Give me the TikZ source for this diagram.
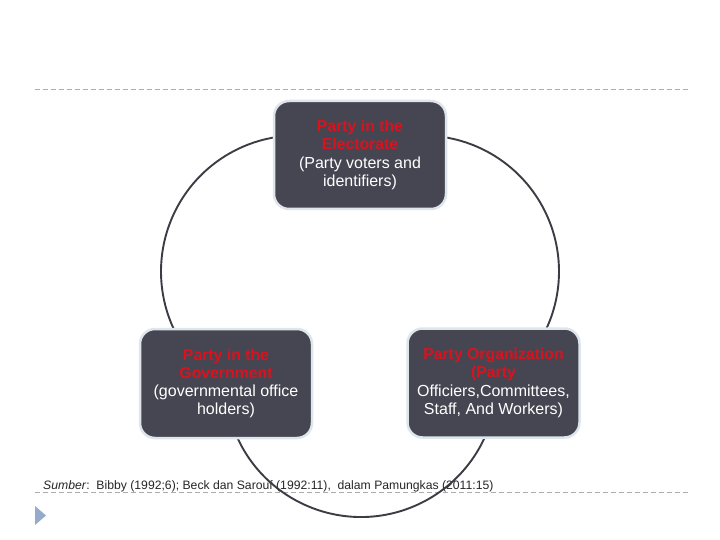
\documentclass[tikz,border=0pt]{standalone}
\usepackage{fontspec}
\setmainfont{Liberation Sans}
\definecolor{boxfill}{RGB}{70,70,82}
\definecolor{boxline}{RGB}{222,230,236}
\definecolor{partyred}{RGB}{218,18,30}
\definecolor{arcgray}{RGB}{60,60,68}
\definecolor{dashgray}{RGB}{172,172,172}
\definecolor{tri}{RGB}{150,170,202}
\newcommand{\rt}[1]{\textcolor{partyred}{\bfseries\fontsize{15.8}{18}\selectfont #1}}
\begin{document}
\begin{tikzpicture}[x=1pt,y=-1pt,
  partybox/.style={draw=boxline, line width=2.5pt, fill=boxfill, rounded corners=15pt,
    minimum width=172pt, minimum height=109pt, inner sep=0pt, text=white, align=center,
    font=\fontsize{16}{18.2}\selectfont},
  cyclearc/.style={draw=arcgray, line width=1.9pt},
  rulestyle/.style={draw=dashgray, line width=1pt, dash pattern=on 5pt off 3pt}]
\fill[white] (0,0) rectangle (720,540);
\useasboundingbox (0,0) rectangle (720,540);
% dashed rules
\coordinate (r1a) at (35,90); \coordinate (r1b) at (688,90);
\coordinate (r2a) at (35,492); \coordinate (r2b) at (690,492);
\draw[rulestyle] (r1a) -- (r1b);
\draw[rulestyle] (r2a) -- (r2b);
% source line
\node[anchor=base west, inner sep=0pt, text=black!85, font=\fontsize{12.2}{14}\selectfont] (src) at (43,489)
  {\textit{Sumber}:\ \ Bibby (1992;6); Beck dan Sarouf (1992:11),\ \ dalam Pamungkas (2011:15)};
% bullet triangle
\fill[tri] (35,506) -- (35,525) -- (46,515.5) -- cycle;
% cycle arcs
\coordinate (cl) at (297,271.5);
\coordinate (cr) at (423,271.5);
\coordinate (cb) at (361,381);
\draw[cyclearc] (cl) ++(265:136) arc[start angle=265, end angle=150, radius=136];
\draw[cyclearc] (cr) ++(-85:136) arc[start angle=-85, end angle=30, radius=136];
\draw[cyclearc] (cb) ++(158:136) arc[start angle=158, end angle=22, radius=136];
% boxes
\node[partybox, minimum width=172pt, minimum height=108pt] (elect) at (360,155)
  {\rt{Party in the}\\\rt{Electorate}\\(Party voters and\\identifiers)};
\node[partybox] (gov) at (226,383.5)
  {\rt{Party in the}\\\rt{Government}\\(governmental office\\holders)};
\node[partybox] (org) at (493.5,383)
  {\rt{Party Organization}\\\rt{(Party}\\Officiers,Committees,\\Staff, And Workers)};
\end{tikzpicture}
\end{document}
